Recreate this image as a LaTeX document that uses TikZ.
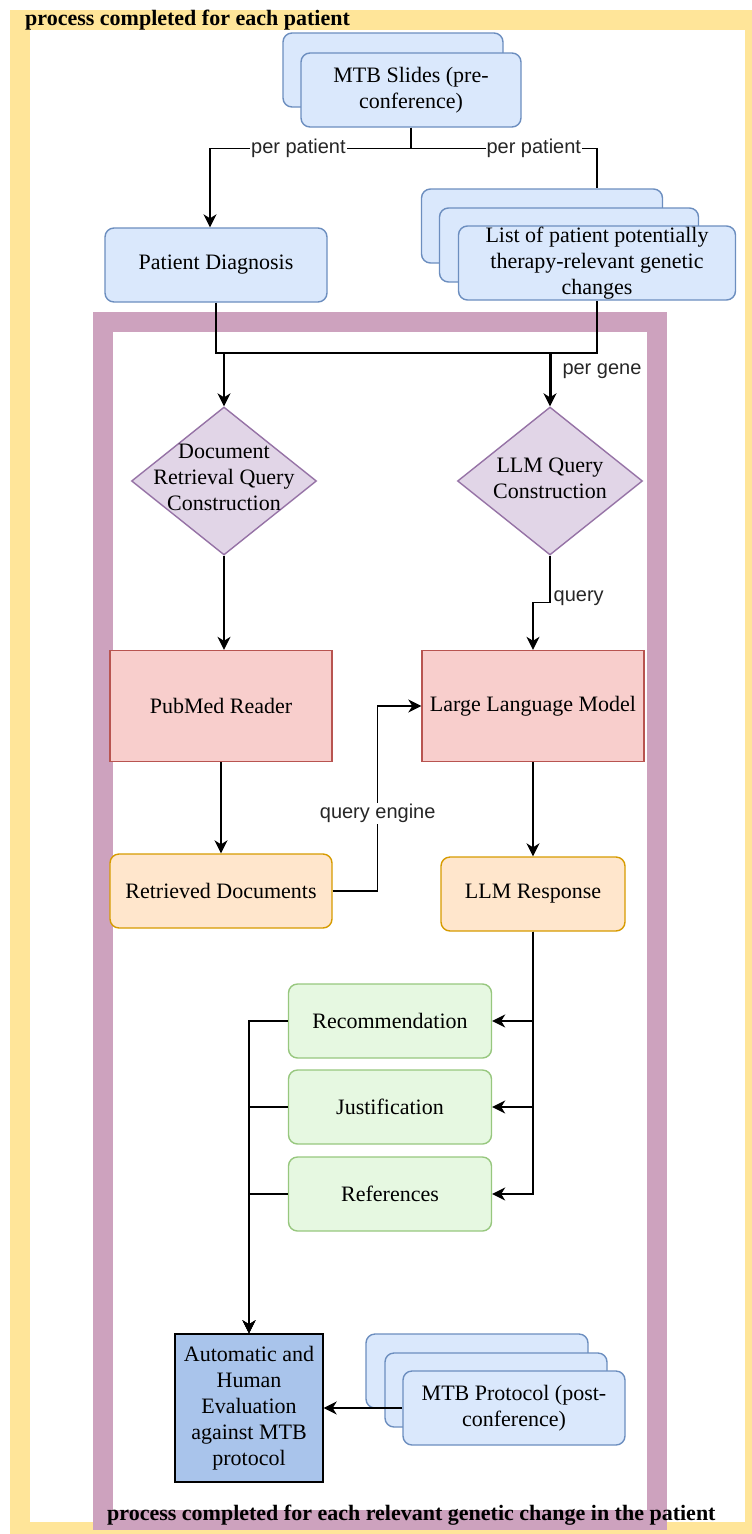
\documentclass[tikz,border=0pt]{standalone}
\usepackage{fontspec}
\setmainfont{Liberation Serif}
\setsansfont{Liberation Sans}
\usetikzlibrary{arrows.meta,positioning,shapes.geometric}
\definecolor{bfill}{HTML}{DAE8FC}
\definecolor{bline}{HTML}{6C8EBF}
\definecolor{pfill}{HTML}{E1D5E7}
\definecolor{pline}{HTML}{9673A6}
\definecolor{rfill}{HTML}{F8CECC}
\definecolor{rline}{HTML}{B85450}
\definecolor{ofill}{HTML}{FFE6CC}
\definecolor{oline}{HTML}{D79B00}
\definecolor{gfill}{HTML}{E6F8E1}
\definecolor{gline}{HTML}{97C77E}
\definecolor{efill}{HTML}{A9C4EB}
\definecolor{yframe}{HTML}{FFE599}
\definecolor{mframe}{HTML}{CDA2BE}
\tikzset{
  box/.style={draw,line width=1.4pt,align=center,inner sep=0pt,minimum width=222pt,minimum height=74pt,font=\fontsize{22}{26}\selectfont},
  bbox/.style={box,rounded corners=9pt,fill=bfill,draw=bline},
  rbox/.style={box,fill=rfill,draw=rline,minimum height=111pt},
  obox/.style={box,rounded corners=9pt,fill=ofill,draw=oline},
  gbox/.style={box,rounded corners=9pt,fill=gfill,draw=gline,minimum width=203pt},
  dbox/.style={diamond,draw=pline,fill=pfill,line width=1.4pt,inner sep=0pt,minimum width=185pt,minimum height=148pt},
  dtxt/.style={align=center,inner sep=0pt,font=\fontsize{22}{26}\selectfont},
  ebox/.style={box,fill=efill,draw=black,minimum width=148pt,minimum height=148pt},
  lbl/.style={font=\sffamily\fontsize{20}{24}\selectfont,inner sep=1pt,text=black!85},
  ar/.style={-{Stealth[length=13pt,width=13pt,inset=4pt]},line width=1.4pt},
  ln/.style={line width=1.4pt},
  ttl/.style={font=\bfseries\fontsize{22}{26}\selectfont,inner sep=0pt,anchor=west},
}
\begin{document}
\begin{tikzpicture}[x=1pt,y=-1pt]
\useasboundingbox (0,0) rectangle (752,1534);
% frames
\draw[yframe,line width=20pt] (20,20) rectangle (755,1532);
\draw[mframe,line width=20pt] (103,322) rectangle (657,1520);
\node[ttl] (t1) at (25,20) {process completed for each patient};
\node[ttl] (t2) at (107,1515) {process completed for each relevant genetic change in the patient};

% inputs
\node[bbox,minimum width=220pt] (slidesB) at (393,70) {};
\node[bbox,minimum width=220pt] (slides) at (411,90) {MTB Slides (pre-\\conference)};
\node[bbox] (pd) at (216,265) {Patient Diagnosis};
\node[bbox,minimum width=241pt] (lstC) at (542,226) {};
\node[bbox,minimum width=259pt] (lstB) at (569,245) {};
\node[bbox,minimum width=277pt] (lst) at (597,263) {List of patient potentially\\therapy-relevant genetic\\changes};

\draw[ar] (slides.south) -- ++(0,21) -| node[lbl,fill=white,pos=0.28]{per patient} ([xshift=-6pt]pd.north);
\draw[ln] (slides.south) -- ++(0,21) -| node[lbl,fill=white,pos=0.33]{per patient} (lst |- lstC.north);

\coordinate (bus) at (0,353);
\draw[ln] (pd.south) |- (bus -| lst.south) -- (lst.south);

% queries
\node[dbox,label={[dtxt,yshift=4pt]center:{Document\\Retrieval Query\\Construction}}] (dq) at (224,481) {};
\node[dbox,label={[dtxt,yshift=3pt]center:{LLM Query\\Construction}}] (lq) at (550,481) {};
\draw[ar] (dq.north |- bus) -- (dq.north);
\draw[ar,line width=3pt] (lq.north |- bus) -- node[lbl,pos=0.35,right=10pt]{per gene} (lq.north);

% retrieval and generation
\node[rbox] (pm) at (221,706) {PubMed Reader};
\node[rbox] (llm) at (533,706) {Large Language Model};
\node[obox] (rd) at (221,891) {Retrieved Documents};
\node[obox,minimum width=184pt] (resp) at (533,894) {LLM Response};

\draw[ar] (dq.south) -- (dq.south |- pm.north);
\draw[ar] (lq.south) -- node[lbl,pos=0.9,right=2pt]{query} ++(0,47) -| (llm.north);
\draw[ar] (pm.south) -- (rd.north);
\draw[ar] (llm.south) -- (resp.north);
\draw[ar] (rd.east) -- ++(45,0) |- node[lbl,fill=white,pos=0.21]{query engine} (llm.west);

% outputs
\node[gbox] (rec) at (390,1021) {Recommendation};
\node[gbox] (jus) at (390,1107) {Justification};
\node[gbox] (refs) at (390,1194) {References};
\foreach \o in {rec,jus,refs} \draw[ar] (resp.south) |- (\o.east);

\node[ebox] (eval) at (249,1408) {Automatic and\\Human\\Evaluation\\against MTB\\protocol};
\foreach \o in {rec,jus,refs} \draw[ar] (\o.west) -| (eval.north);

\node[bbox] (protC) at (477,1371) {};
\node[bbox] (protB) at (496,1390) {};
\node[bbox] (prot) at (514,1408) {MTB Protocol (post-\\conference)};
\draw[ar] (prot.west) -- (eval.east);
\end{tikzpicture}
\end{document}
